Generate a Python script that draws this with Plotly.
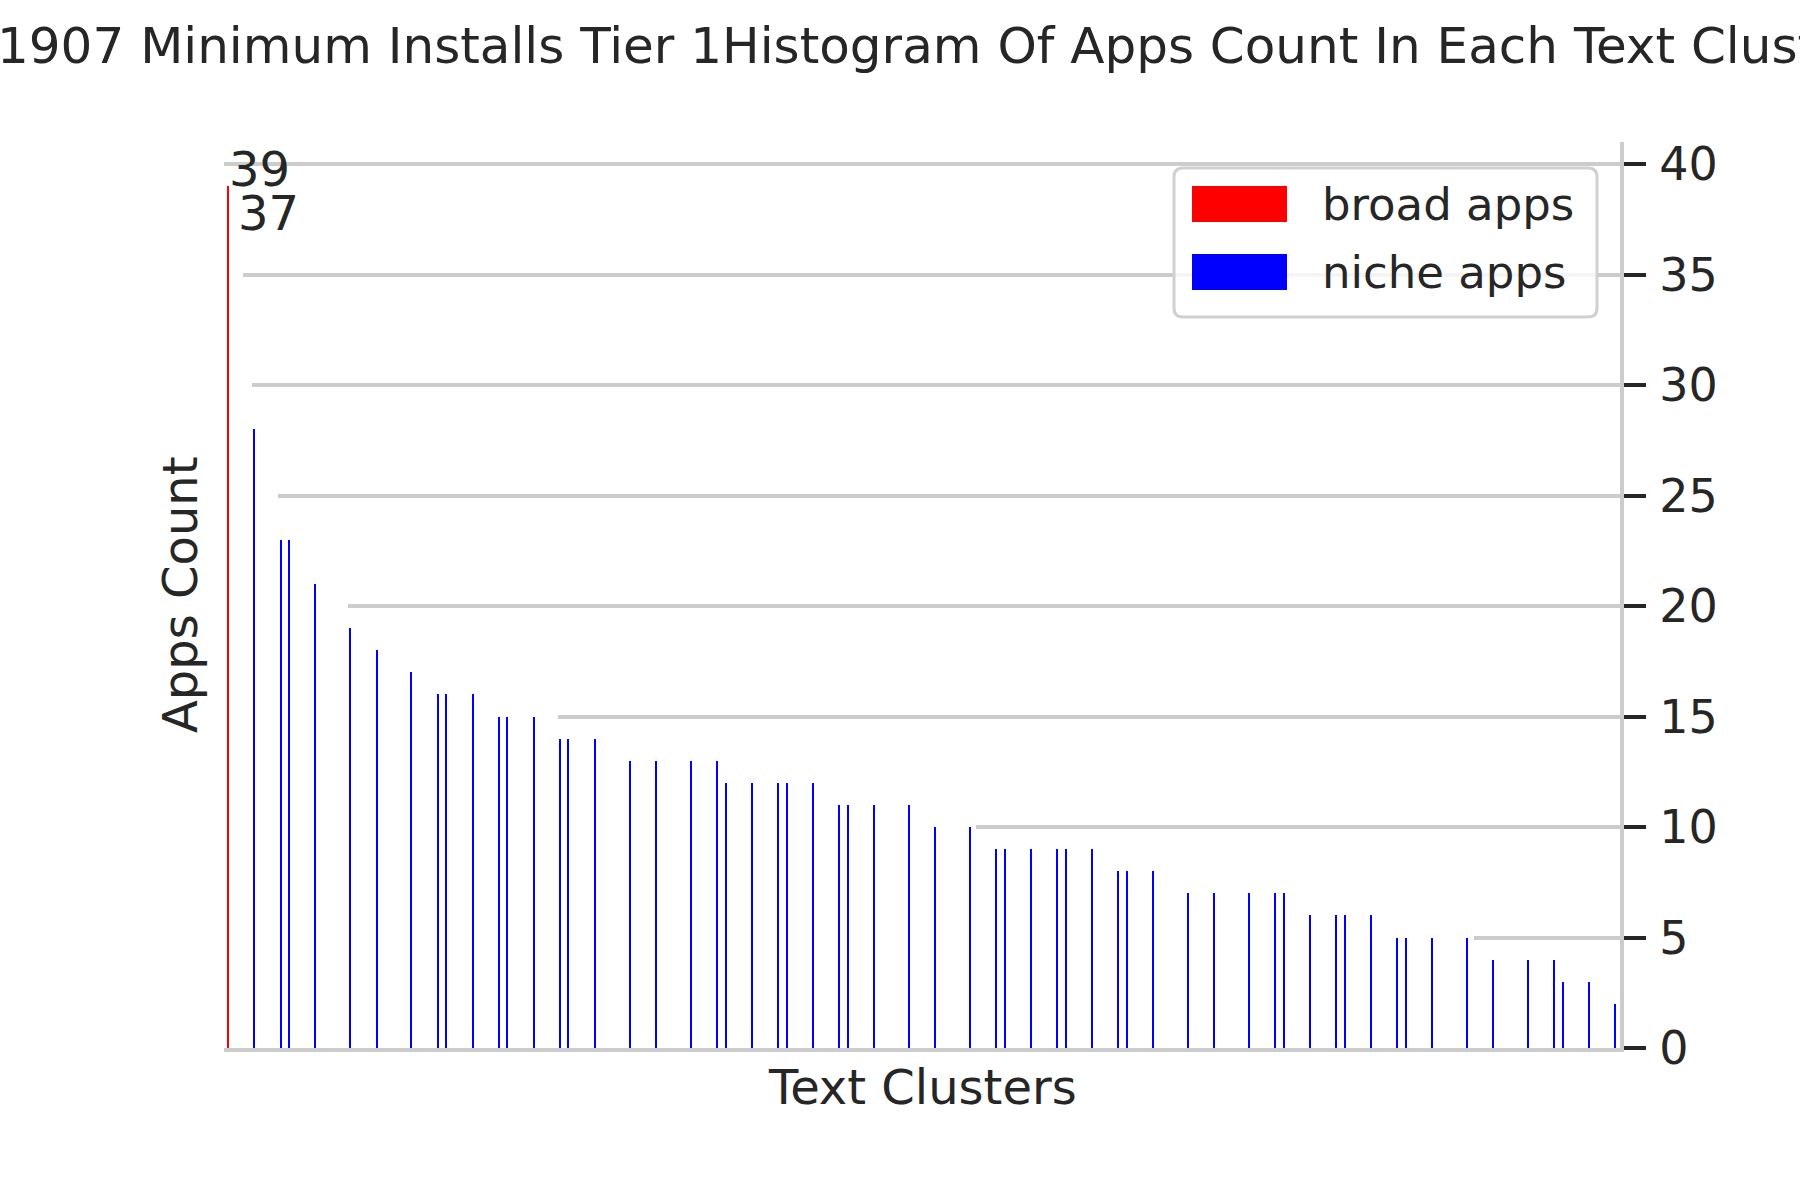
import plotly.graph_objects as go

# ---------------- data ----------------
# apps count of each text cluster, sorted descending (cluster rank 0..159)
cluster_counts = [
    39, 37, 31, 28, 26, 25, 23, 23, 22, 21, 21, 21, 20, 20, 19, 19, 18, 18, 18, 17,
    17, 17, 16, 16, 16, 16, 16, 16, 16, 16, 15, 15, 15, 15, 15, 15, 15, 15, 14, 14,
    14, 14, 14, 14, 13, 13, 13, 13, 13, 13, 13, 13, 13, 13, 13, 13, 13, 12, 12, 12,
    12, 12, 12, 12, 12, 12, 12, 12, 12, 11, 11, 11, 11, 11, 11, 11, 11, 11, 11, 11,
    10, 10, 10, 10, 10, 10, 9, 9, 9, 9, 9, 9, 9, 9, 9, 9, 9, 9, 9, 9,
    9, 8, 8, 8, 8, 8, 8, 8, 7, 7, 7, 7, 7, 7, 7, 7, 7, 7, 7, 7,
    7, 7, 7, 6, 6, 6, 6, 6, 6, 6, 6, 6, 6, 5, 5, 5, 5, 5, 5, 5,
    5, 5, 5, 4, 4, 4, 4, 4, 4, 4, 4, 4, 4, 3, 3, 3, 3, 3, 2, 2,
]
# clusters of the "broad apps" type (annotated with their count)
broad_clusters = [0, 1]
# clusters whose bar shows up as a coloured line in the reference
visible_clusters = [0, 3, 6, 7, 10, 14, 17, 21, 24, 25, 28, 31, 32, 35, 38, 39, 42,
                    46, 49, 53, 56, 57, 60, 63, 64, 67, 70, 71, 74, 78, 81, 85, 88,
                    89, 92, 95, 96, 99, 102, 103, 106, 110, 113, 117, 120, 121, 124,
                    127, 128, 131, 134, 135, 138, 142, 145, 149, 152, 153, 156, 159]
series_names = ["broad apps", "niche apps"]
series_colors = ["#ff0000", "#0000ff"]
y_ticks = [0, 5, 10, 15, 20, 25, 30, 35, 40]

title_text = "1907 Minimum Installs Tier 1Histogram Of Apps Count In Each Text Clusters"
x_title = "Text Clusters"
y_title = "Apps Count"

# ---------------- layout geometry ----------------
W, H = 1800, 1200
L, R, T, B = 224, 1620, 142, 1048
FONT = "DejaVu Sans"
INK = "#262626"
GRID = "#cccccc"


def px_x(p):
    return (p - L) / (R - L)


def px_y(p):
    return (B - p) / (B - T)


idx_all = list(range(len(cluster_counts)))

fig = go.Figure()

# white-edged bars: they hide the grid lines behind them
fig.add_trace(go.Bar(
    x=idx_all, y=cluster_counts, width=1.0,
    marker=dict(color="white", line=dict(width=4, color="white")),
    showlegend=False, hoverinfo="skip",
))

# visible coloured lines
vis_colors = [series_colors[0] if i in broad_clusters else series_colors[1]
              for i in visible_clusters]
fig.add_trace(go.Bar(
    x=visible_clusters, y=[cluster_counts[i] for i in visible_clusters], width=0.15,
    marker=dict(color=vis_colors, line=dict(width=0)),
    showlegend=False,
))

annotations = []
# count labels on broad clusters
for i in broad_clusters:
    annotations.append(dict(
        x=i, y=cluster_counts[i], xref="x", yref="y", text=str(cluster_counts[i]),
        showarrow=False, xanchor="left", yanchor="bottom", yshift=-13, xshift=-1,
        font=dict(family=FONT, size=48, color=INK),
    ))

# title (wider than the figure, clipped like the reference)
annotations.append(dict(
    x=px_x(-5), y=px_y(46), xref="paper", yref="paper", text=title_text,
    showarrow=False, xanchor="left", yanchor="middle",
    font=dict(family=FONT, size=50, color=INK),
))
# axis titles
annotations.append(dict(
    x=px_x(180), y=0.5, xref="paper", yref="paper", text=y_title, textangle=-90,
    showarrow=False, xanchor="center", yanchor="middle",
    font=dict(family=FONT, size=48, color=INK),
))
annotations.append(dict(
    x=0.5, y=px_y(1087), xref="paper", yref="paper", text=x_title,
    showarrow=False, xanchor="center", yanchor="middle",
    font=dict(family=FONT, size=48, color=INK),
))

# manual legend (matplotlib-like box with large patches)
shapes = []
bx0, by0, bx1, by1, r = 1174, 168, 1597, 317, 9
path = (f"M {px_x(bx0 + r)},{px_y(by0)} L {px_x(bx1 - r)},{px_y(by0)} "
        f"Q {px_x(bx1)},{px_y(by0)} {px_x(bx1)},{px_y(by0 + r)} "
        f"L {px_x(bx1)},{px_y(by1 - r)} Q {px_x(bx1)},{px_y(by1)} {px_x(bx1 - r)},{px_y(by1)} "
        f"L {px_x(bx0 + r)},{px_y(by1)} Q {px_x(bx0)},{px_y(by1)} {px_x(bx0)},{px_y(by1 - r)} "
        f"L {px_x(bx0)},{px_y(by0 + r)} Q {px_x(bx0)},{px_y(by0)} {px_x(bx0 + r)},{px_y(by0)} Z")
shapes.append(dict(type="path", path=path, xref="paper", yref="paper",
                   line=dict(color="#d0d0d0", width=3),
                   fillcolor="rgba(255,255,255,0.8)", layer="above"))
for k, (name, col) in enumerate(zip(series_names, series_colors)):
    yc = 204 + k * 68
    shapes.append(dict(type="rect", xref="paper", yref="paper",
                       x0=px_x(1192), x1=px_x(1287), y0=px_y(yc - 18), y1=px_y(yc + 18),
                       fillcolor=col, line=dict(width=0), layer="above"))
    annotations.append(dict(
        x=px_x(1320), y=px_y(yc), xref="paper", yref="paper", text=name,
        showarrow=False, xanchor="left", yanchor="middle",
        font=dict(family=FONT, size=45, color=INK),
    ))

fig.update_layout(
    width=W, height=H,
    margin=dict(l=L, r=W - R, t=T, b=H - B, pad=0),
    paper_bgcolor="white", plot_bgcolor="white",
    barmode="overlay", bargap=0,
    showlegend=False,
    font=dict(family=FONT, color=INK),
    xaxis=dict(range=[-0.5, len(cluster_counts) - 0.5], showgrid=False, zeroline=False,
               showticklabels=False, ticks="", showline=True, linecolor=GRID, linewidth=4),
    yaxis=dict(range=[0, 41], side="right", tickvals=y_ticks, ticktext=[str(v) for v in y_ticks],
               showgrid=True, gridcolor=GRID, gridwidth=3.5, zeroline=False,
               showline=True, linecolor=GRID, linewidth=4,
               ticks="outside", ticklen=22, tickwidth=4, tickcolor=INK,
               tickfont=dict(family=FONT, size=46, color=INK), ticklabelstandoff=4),
    shapes=shapes, annotations=annotations,
)

# remove the browser's default page margin so the figure sits at the top-left corner
fig.write_html("out.html", config={"displayModeBar": False},
               post_script="document.body.style.margin='0';")
